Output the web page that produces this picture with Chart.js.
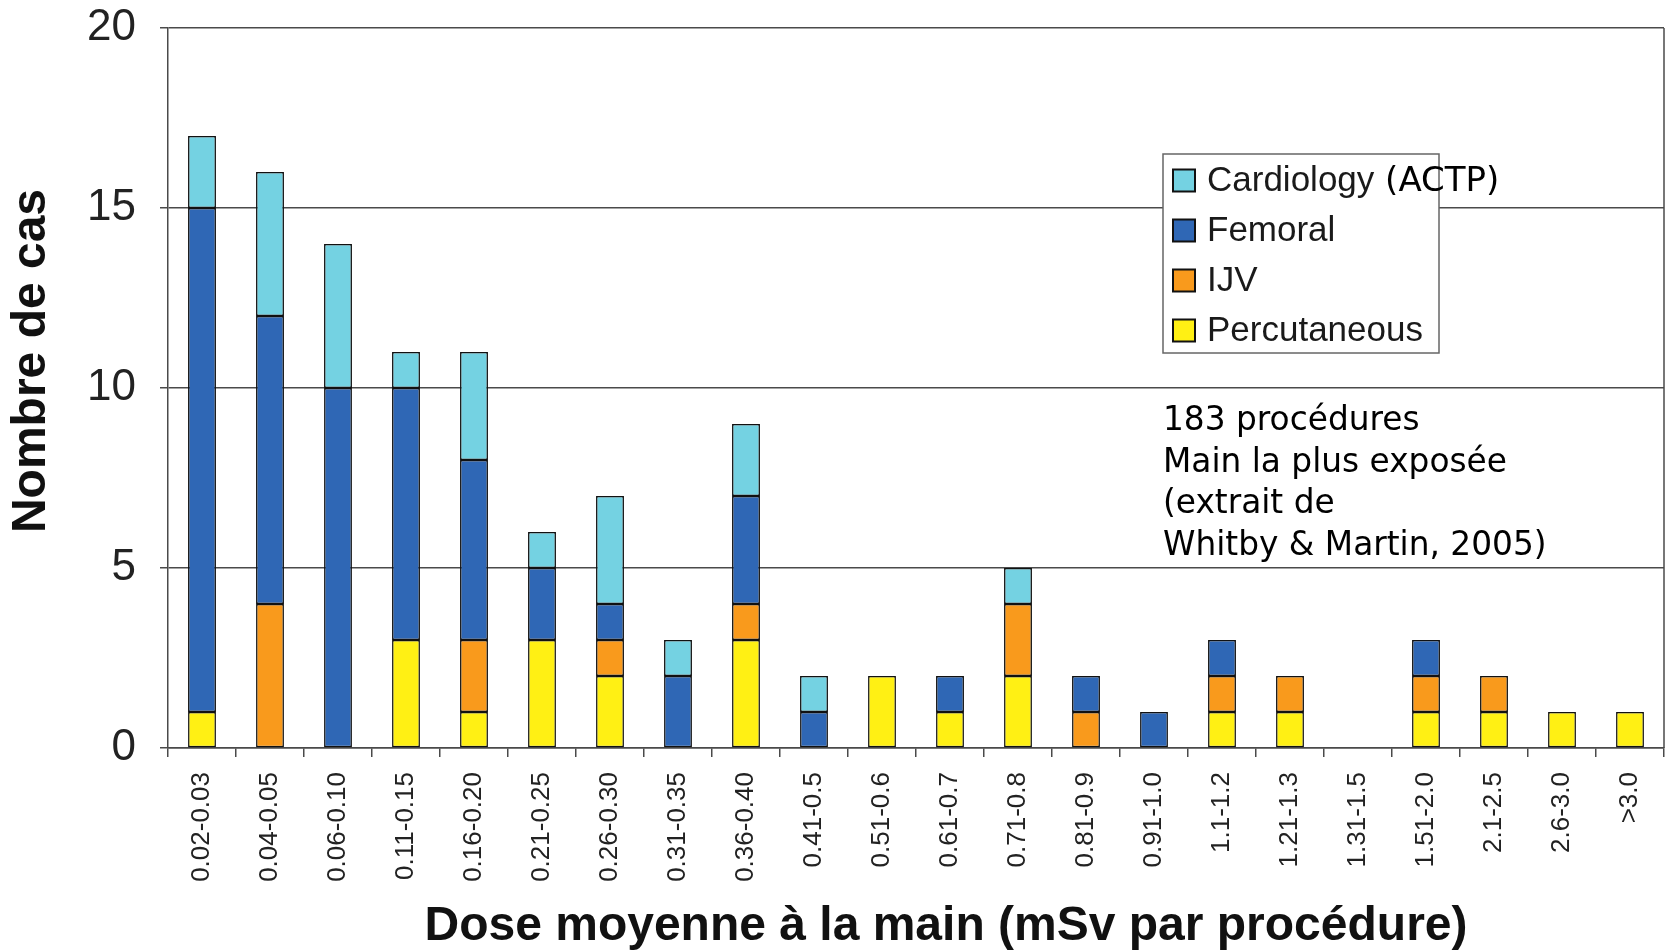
<!DOCTYPE html>
<html>
<head>
<meta charset="utf-8">
<script src="https://cdn.jsdelivr.net/npm/chart.js@4"></script>
<style>
  body { margin: 0; background: #fff; }
  #wrap { width: 1667px; height: 951px; }
</style>
</head>
<body>
<div id="wrap"><canvas id="chart" width="1667" height="951"></canvas></div>
<script>
var categories = ['0.02-0.03', '0.04-0.05', '0.06-0.10', '0.11-0.15', '0.16-0.20', '0.21-0.25',
    '0.26-0.30', '0.31-0.35', '0.36-0.40', '0.41-0.5', '0.51-0.6', '0.61-0.7', '0.71-0.8',
    '0.81-0.9', '0.91-1.0', '1.1-1.2', '1.21-1.3', '1.31-1.5', '1.51-2.0', '2.1-2.5', '2.6-3.0', '>3.0'];

// number of cases per category (null = none)
var percutaneous = [1, null, null, 3, 1, 3, 2, null, 3, null, 2, 1, 2, null, null, 1, 1, null, 1, 1, 1, 1];
var ijv          = [null, 4, null, null, 2, null, 1, null, 1, null, null, null, 2, 1, null, 1, 1, null, 1, 1, null, null];
var femoral      = [14, 8, 10, 7, 5, 2, 1, 2, 3, 1, null, 1, null, 1, 1, 1, null, null, 1, null, null, null];
var cardiology   = [2, 4, 4, 1, 3, 1, 3, 1, 2, 1, null, null, 1, null, null, null, null, null, null, null, null, null];

var yTicks = [0, 5, 10, 15, 20];

var xTitle = 'Dose moyenne à la main (mSv par procédure)';
var yTitle = 'Nombre de cas';
var noteLines = ['183 procédures', 'Main la plus exposée', '(extrait de', 'Whitby & Martin, 2005)'];

var axisColor = '#4a4a4a';

// titles, legend box, note and right border of the plot
var overlay = {
    id: 'overlay',
    afterDraw: function(chart) {
        var ctx = chart.ctx;
        var area = chart.chartArea;
        ctx.save();

        ctx.strokeStyle = axisColor;
        ctx.lineWidth = 1.5;
        ctx.beginPath();
        ctx.moveTo(area.right, area.top);
        ctx.lineTo(area.right, area.bottom);
        ctx.stroke();

        // axis titles
        ctx.fillStyle = '#111';
        ctx.textAlign = 'center';
        ctx.textBaseline = 'middle';
        ctx.font = 'bold 48px "Liberation Sans", Arial, sans-serif';
        ctx.fillText(xTitle, 946, 927);
        ctx.save();
        ctx.translate(32, 361);
        ctx.rotate(-Math.PI / 2);
        ctx.font = 'bold 48px "Liberation Sans", Arial, sans-serif';
        ctx.fillText(yTitle, 0, 0);
        ctx.restore();

        // legend
        ctx.fillStyle = '#fff';
        ctx.fillRect(1163, 154, 276, 199);
        ctx.strokeStyle = '#666';
        ctx.lineWidth = 1.5;
        ctx.strokeRect(1163, 154, 276, 199);

        var sets = chart.data.datasets.slice().reverse();
        for (var i = 0; i < sets.length; i++) {
            var cy = 180.5 + i * 50;
            ctx.fillStyle = sets[i].backgroundColor;
            ctx.fillRect(1173, cy - 11, 22, 22);
            ctx.strokeStyle = '#111';
            ctx.lineWidth = 2;
            ctx.strokeRect(1173, cy - 11, 22, 22);

            var txt = sets[i].label;
            var k = txt.indexOf(' (');
            var main = k >= 0 ? txt.substring(0, k) : txt;
            ctx.fillStyle = '#1a1a1a';
            ctx.textBaseline = 'middle';
            ctx.textAlign = 'left';
            ctx.font = '35px "Liberation Sans", Arial, sans-serif';
            ctx.fillText(main, 1207, cy + 1);
            if (k >= 0) {
                var w = ctx.measureText(main).width;
                ctx.font = '34px "DejaVu Sans", sans-serif';
                ctx.fillStyle = '#000';
                ctx.fillText(txt.substring(k), 1207 + w, cy + 2);
            }
        }

        // note
        ctx.fillStyle = '#000';
        ctx.font = '32.8px "DejaVu Sans", sans-serif';
        ctx.textBaseline = 'alphabetic';
        ctx.textAlign = 'left';
        for (var j = 0; j < noteLines.length; j++) {
            ctx.fillText(noteLines[j], 1163, 430 + j * 41.7);
        }
        ctx.restore();
    }
};

function makeSet(label, data, color) {
    return {
        label: label,
        data: data,
        backgroundColor: color,
        borderColor: '#111',
        borderWidth: 1.5,
        borderSkipped: false,
        barPercentage: 0.41,
        categoryPercentage: 1.0
    };
}

var ctx = document.getElementById('chart').getContext('2d');
var myChart = new Chart(ctx, {
    type: 'bar',
    data: {
        labels: categories,
        datasets: [
            makeSet('Percutaneous', percutaneous, '#FFF014'),
            makeSet('IJV', ijv, '#F99A1C'),
            makeSet('Femoral', femoral, '#2F67B5'),
            makeSet('Cardiology (ACTP)', cardiology, '#74D2E2')
        ]
    },
    options: {
        responsive: false,
        animation: false,
        layout: { padding: { top: 28, right: 3, left: 0, bottom: 0 } },
        plugins: {
            legend: { display: false },
            tooltip: { enabled: false }
        },
        scales: {
            x: {
                stacked: true,
                grid: {
                    offset: true,
                    drawOnChartArea: false,
                    drawTicks: true,
                    tickLength: 9,
                    color: axisColor,
                    lineWidth: 1.5
                },
                border: { display: true, color: axisColor, width: 1.5 },
                ticks: {
                    autoSkip: false,
                    minRotation: 90,
                    maxRotation: 90,
                    padding: 15,
                    color: '#222',
                    font: { family: '"Liberation Sans", Arial, sans-serif', size: 26 }
                },
                afterFit: function(scale) {
                    scale.height = 203;
                    scale.paddingLeft = 0;
                    scale.paddingRight = 0;
                }
            },
            y: {
                stacked: true,
                min: 0,
                max: 20,
                afterBuildTicks: function(scale) {
                    scale.ticks = yTicks.map(function(v) { return { value: v }; });
                },
                grid: {
                    color: axisColor,
                    lineWidth: 1.5,
                    tickLength: 8
                },
                border: { display: true, color: axisColor, width: 1.5 },
                ticks: {
                    padding: 24,
                    color: '#222',
                    font: { family: '"Liberation Sans", Arial, sans-serif', size: 44 }
                },
                afterFit: function(scale) {
                    scale.width = 168;
                    scale.paddingTop = 0;
                    scale.paddingBottom = 0;
                }
            }
        }
    },
    plugins: [overlay]
});
</script>
</body>
</html>
